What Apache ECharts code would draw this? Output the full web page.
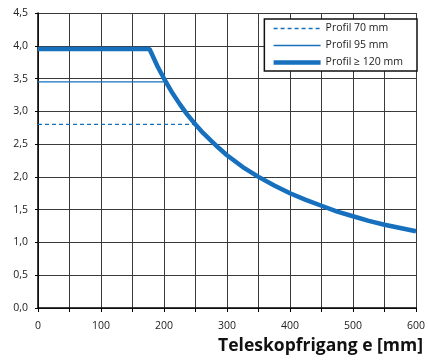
<!DOCTYPE html>
<html>
<head>
<meta charset="utf-8">
<script src="https://cdn.jsdelivr.net/npm/echarts@6/dist/echarts.min.js"></script>
<style>
  html, body { margin: 0; padding: 0; background: #fff; }
  #chart { width: 428px; height: 361px; }
</style>
</head>
<body>
<div id="chart"></div>
<script>
// Telescopic clearance e [mm] vs. permissible load
const seriesNames = ['Profil 70 mm', 'Profil 95 mm', 'Profil \u2265 120 mm'];

// Profil 70 mm: flat plateau until it meets the common curve
const profil70 = [[0, 2.8], [250, 2.8]];

// Profil 95 mm: flat plateau until it meets the common curve
const profil95 = [[0, 3.45], [203, 3.45]];

// Profil >= 120 mm: plateau then falling curve
const profil120 = [
  [0, 3.95], [177, 3.95], [190, 3.68], [200, 3.50], [212, 3.30], [225, 3.11],
  [237, 2.95], [250, 2.80], [262, 2.67], [275, 2.55], [287, 2.44], [300, 2.33],
  [325, 2.15], [350, 2.00], [375, 1.87], [400, 1.75], [425, 1.65],
  [450, 1.56], [475, 1.47], [500, 1.40], [525, 1.33], [550, 1.27], [575, 1.22],
  [600, 1.17]
];

const xTickLabels = [0, 100, 200, 300, 400, 500, 600];
const yTickLabels = ['0,0', '0,5', '1,0', '1,5', '2,0', '2,5', '3,0', '3,5', '4,0', '4,5'];

const blue = '#1670bd';
const gridColor = '#3a3a3a';
const font = '"Open Sans", "Noto Sans", sans-serif';

const chart = echarts.init(document.getElementById('chart'), null, { renderer: 'canvas' });

const hiddenSymbol = { opacity: 0 };

chart.setOption({
  animation: false,
  backgroundColor: '#fff',
  grid: { left: 38, right: 10, top: 13, bottom: 53, containLabel: false },
  title: {
    text: 'Teleskopfrigang e [mm]',
    right: 0,
    bottom: 1,
    textStyle: { fontFamily: font, fontWeight: 'bold', fontSize: 17.5, color: '#111' }
  },
  legend: {
    orient: 'vertical',
    top: 19,
    right: 11,
    itemWidth: 47,
    itemHeight: 10,
    itemGap: 6,
    padding: [4, 14, 3, 7],
    borderColor: '#111',
    borderWidth: 1.5,
    backgroundColor: '#fff',
    borderRadius: 0,
    textStyle: { fontFamily: font, fontSize: 10.5, color: '#222' },
    data: [
      { name: seriesNames[0], itemStyle: hiddenSymbol, lineStyle: { width: 1.3, type: [4, 3] } },
      { name: seriesNames[1], itemStyle: hiddenSymbol, lineStyle: { width: 1.3 } },
      { name: seriesNames[2], itemStyle: hiddenSymbol, lineStyle: { width: 4.5 } }
    ]
  },
  xAxis: {
    type: 'value',
    min: 0,
    max: 600,
    interval: 100,
    axisLine: { show: true, lineStyle: { color: '#000', width: 1.5 } },
    axisTick: { show: true, length: 4, lineStyle: { color: '#000' } },
    minorTick: { show: true, splitNumber: 2, length: 4, lineStyle: { color: '#000' } },
    splitLine: { show: true, lineStyle: { color: gridColor, width: 1 } },
    minorSplitLine: { show: true, lineStyle: { color: gridColor, width: 1 } },
    axisLabel: {
      fontFamily: font, fontSize: 10.5, color: '#222', margin: 13,
      formatter: v => (xTickLabels.indexOf(v) >= 0 ? String(v) : '')
    }
  },
  yAxis: {
    type: 'value',
    min: 0,
    max: 4.5,
    interval: 0.5,
    axisLine: { show: true, lineStyle: { color: '#000', width: 1.5 } },
    axisTick: { show: true, length: 3, lineStyle: { color: '#000' } },
    splitLine: { show: true, lineStyle: { color: gridColor, width: 1 } },
    axisLabel: {
      fontFamily: font, fontSize: 10.5, color: '#222', margin: 10,
      formatter: v => yTickLabels[Math.round(v / 0.5)]
    }
  },
  series: [
    {
      name: seriesNames[0], type: 'line', data: profil70, symbol: 'none',
      lineStyle: { color: blue, width: 1.3, type: [4, 3] }, itemStyle: { color: blue }, z: 3
    },
    {
      name: seriesNames[1], type: 'line', data: profil95, symbol: 'none',
      lineStyle: { color: blue, width: 1.3 }, itemStyle: { color: blue }, z: 3
    },
    {
      name: seriesNames[2], type: 'line', data: profil120, symbol: 'none', smooth: false,
      lineStyle: { color: blue, width: 4.5 }, itemStyle: { color: blue }, z: 4
    }
  ]
});
</script>
</body>
</html>
